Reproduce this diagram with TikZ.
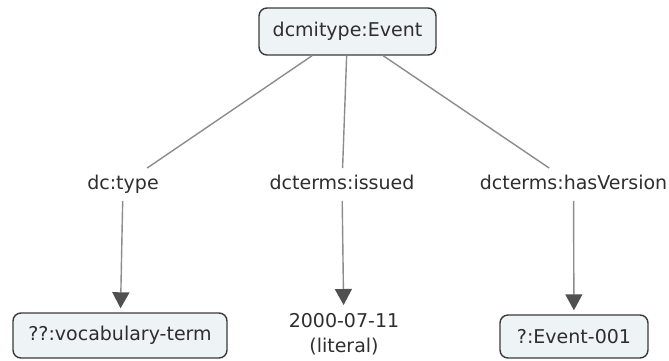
\documentclass[tikz,border=0pt]{standalone}
\usepackage{fontspec}
\setmainfont{DejaVu Sans}
\usetikzlibrary{arrows.meta}
\definecolor{boxfill}{HTML}{EEF3F6}
\definecolor{boxline}{HTML}{3A3A3A}
\definecolor{conn}{HTML}{8C8C8C}
\definecolor{tip}{HTML}{505050}
\definecolor{txt}{HTML}{2E2E2E}
\tikzset{
  concept/.style={draw=boxline, line width=1.4pt, fill=boxfill, rounded corners=8pt,
    font=\fontsize{19}{23}\selectfont, text=txt, inner sep=0pt},
  linklabel/.style={font=\fontsize{19}{23}\selectfont, text=txt, text height=14pt,
    text depth=4.5pt, inner xsep=3pt, inner ysep=7pt},
  plain/.style={draw=conn, line width=1.4pt},
  arrowline/.style={draw=conn, line width=1.4pt,
    -{Triangle[length=16pt,width=17pt,color=tip]}, shorten >=4pt},
}
\begin{document}
\begin{tikzpicture}[x=1pt,y=1pt]
\useasboundingbox (0,0) rectangle (669,-360);
\node[concept, minimum width=177pt, minimum height=47pt] (event) at (347.5,-31.5) {dcmitype:Event};
\node[linklabel] (type) at (123,-184.5) {dc:type};
\node[linklabel] (issued) at (342,-184.5) {dcterms:issued};
\node[linklabel] (hasver) at (573.5,-184.5) {dcterms:hasVersion};
\node[concept, minimum width=214pt, minimum height=45pt] (vocab) at (120,-335.5) {??:vocabulary-term};
\node[concept, minimum width=148pt, minimum height=43pt] (ev001) at (574,-336.5) {?:Event-001};
\node[font=\fontsize{19}{25}\selectfont, text=txt, align=center, inner sep=0pt, anchor=north] (lit) at (344,-313) {2000-07-11\\(literal)};
\path[plain] (event) -- (type);
\path[plain] (event) -- (issued);
\path[plain] (event) -- (hasver);
\path[arrowline] (type) -- (vocab);
\path[arrowline, shorten >=8pt] (issued) -- (lit);
\path[arrowline] (hasver) -- (ev001);
\end{tikzpicture}
\end{document}
